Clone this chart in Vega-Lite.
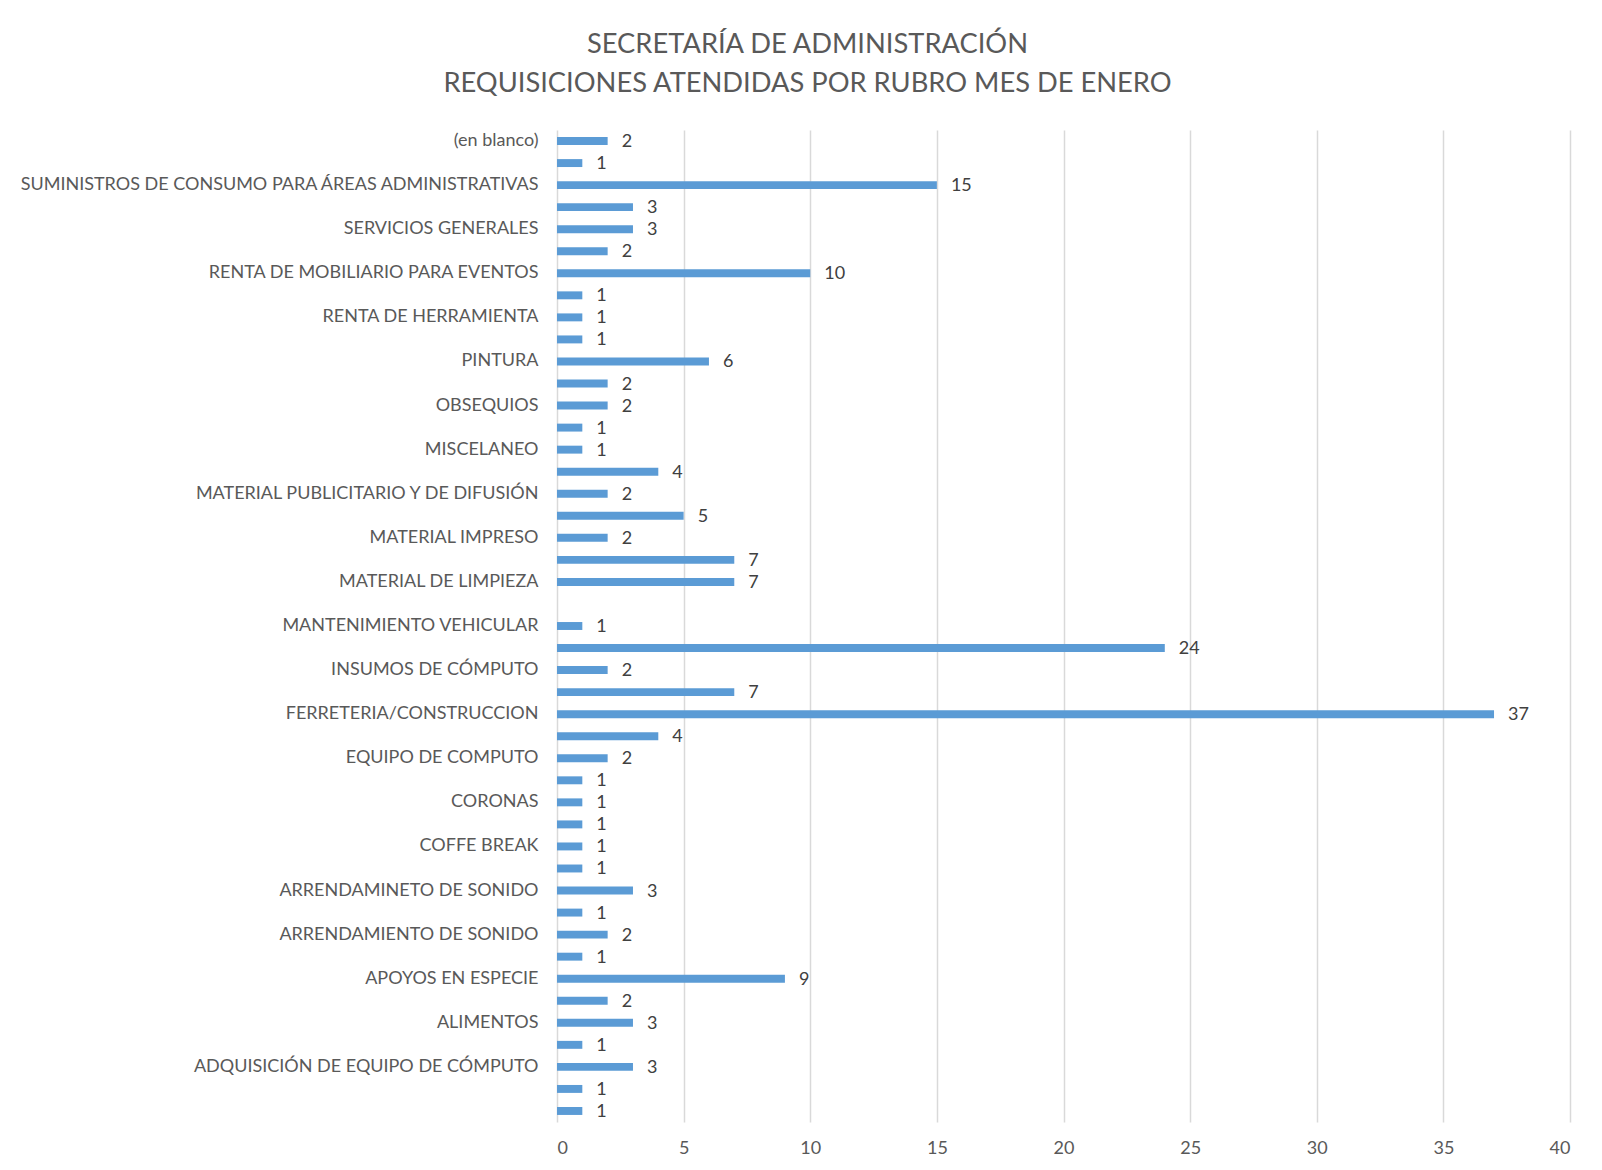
{
  "$schema": "https://vega.github.io/schema/vega-lite/v6.json",
  "width": 1013,
  "height": 992,
  "autosize": {"type": "none"},
  "padding": {"left": 557, "top": 130, "right": 32, "bottom": 48},
  "background": "white",
  "title": {
    "text": ["SECRETARÍA DE ADMINISTRACIÓN", "REQUISICIONES ATENDIDAS POR RUBRO MES DE ENERO"],
    "font": "Lato",
    "fontSize": 27.3,
    "fontWeight": "normal",
    "color": "#595959",
    "anchor": "middle",
    "frame": "group",
    "dx": -256,
    "offset": 33,
    "lineHeight": 39
  },
  "config": {
    "view": {"stroke": null},
    "font": "Lato"
  },
  "data": {
    "values": [
      {"rubro": "(en blanco)", "valor": 2},
      {"rubro": "_01", "valor": 1},
      {"rubro": "SUMINISTROS DE CONSUMO PARA ÁREAS ADMINISTRATIVAS", "valor": 15},
      {"rubro": "_03", "valor": 3},
      {"rubro": "SERVICIOS GENERALES", "valor": 3},
      {"rubro": "_05", "valor": 2},
      {"rubro": "RENTA DE MOBILIARIO PARA EVENTOS", "valor": 10},
      {"rubro": "_07", "valor": 1},
      {"rubro": "RENTA DE HERRAMIENTA", "valor": 1},
      {"rubro": "_09", "valor": 1},
      {"rubro": "PINTURA\u00a0", "valor": 6},
      {"rubro": "_11", "valor": 2},
      {"rubro": "OBSEQUIOS", "valor": 2},
      {"rubro": "_13", "valor": 1},
      {"rubro": "MISCELANEO", "valor": 1},
      {"rubro": "_15", "valor": 4},
      {"rubro": "MATERIAL PUBLICITARIO Y DE DIFUSIÓN", "valor": 2},
      {"rubro": "_17", "valor": 5},
      {"rubro": "MATERIAL IMPRESO", "valor": 2},
      {"rubro": "_19", "valor": 7},
      {"rubro": "MATERIAL DE LIMPIEZA", "valor": 7},
      {"rubro": "_21", "valor": null},
      {"rubro": "MANTENIMIENTO VEHICULAR", "valor": 1},
      {"rubro": "_23", "valor": 24},
      {"rubro": "INSUMOS DE CÓMPUTO", "valor": 2},
      {"rubro": "_25", "valor": 7},
      {"rubro": "FERRETERIA/CONSTRUCCION", "valor": 37},
      {"rubro": "_27", "valor": 4},
      {"rubro": "EQUIPO DE COMPUTO", "valor": 2},
      {"rubro": "_29", "valor": 1},
      {"rubro": "CORONAS", "valor": 1},
      {"rubro": "_31", "valor": 1},
      {"rubro": "COFFE BREAK", "valor": 1},
      {"rubro": "_33", "valor": 1},
      {"rubro": "ARRENDAMINETO DE SONIDO", "valor": 3},
      {"rubro": "_35", "valor": 1},
      {"rubro": "ARRENDAMIENTO DE SONIDO", "valor": 2},
      {"rubro": "_37", "valor": 1},
      {"rubro": "APOYOS EN ESPECIE", "valor": 9},
      {"rubro": "_39", "valor": 2},
      {"rubro": "ALIMENTOS", "valor": 3},
      {"rubro": "_41", "valor": 1},
      {"rubro": "ADQUISICIÓN DE EQUIPO DE CÓMPUTO", "valor": 3},
      {"rubro": "_43", "valor": 1},
      {"rubro": "_44", "valor": 1}
    ]
  },
  "encoding": {
    "y": {
      "field": "rubro",
      "type": "nominal",
      "sort": null,
      "scale": {
        "domain": ["(en blanco)", "_01", "SUMINISTROS DE CONSUMO PARA ÁREAS ADMINISTRATIVAS", "_03", "SERVICIOS GENERALES", "_05", "RENTA DE MOBILIARIO PARA EVENTOS", "_07", "RENTA DE HERRAMIENTA", "_09", "PINTURA\u00a0", "_11", "OBSEQUIOS", "_13", "MISCELANEO", "_15", "MATERIAL PUBLICITARIO Y DE DIFUSIÓN", "_17", "MATERIAL IMPRESO", "_19", "MATERIAL DE LIMPIEZA", "_21", "MANTENIMIENTO VEHICULAR", "_23", "INSUMOS DE CÓMPUTO", "_25", "FERRETERIA/CONSTRUCCION", "_27", "EQUIPO DE COMPUTO", "_29", "CORONAS", "_31", "COFFE BREAK", "_33", "ARRENDAMINETO DE SONIDO", "_35", "ARRENDAMIENTO DE SONIDO", "_37", "APOYOS EN ESPECIE", "_39", "ALIMENTOS", "_41", "ADQUISICIÓN DE EQUIPO DE CÓMPUTO", "_43", "_44"],
        "paddingInner": 0.64,
        "paddingOuter": 0.32
      },
      "axis": {
        "title": null,
        "labelExpr": "substring(datum.label,0,1)=='_' ? '' : datum.label",
        "ticks": false,
        "domain": false,
        "grid": false,
        "labelFontSize": 18,
        "labelColor": "#595959",
        "labelPadding": 19,
        "labelLimit": 600
      }
    }
  },
  "layer": [
    {
      "mark": {"type": "bar", "color": "#5B9BD5"},
      "encoding": {
        "x": {
          "field": "valor",
          "type": "quantitative",
          "scale": {"domain": [0, 40], "nice": false},
          "axis": {
            "title": null,
            "values": [0, 5, 10, 15, 20, 25, 30, 35, 40],
            "grid": true,
            "gridColor": "#d9d9d9",
            "gridWidth": 1.5,
            "domain": false,
            "ticks": false,
            "labelFontSize": 18,
            "labelColor": "#595959",
            "labelPadding": 17
          }
        }
      }
    },
    {
      "mark": {"type": "text", "align": "left", "baseline": "middle", "dx": 14, "dy": 1, "fontSize": 18, "color": "#404040"},
      "encoding": {
        "x": {"field": "valor", "type": "quantitative"},
        "text": {"field": "valor", "type": "quantitative"}
      }
    }
  ]
}
